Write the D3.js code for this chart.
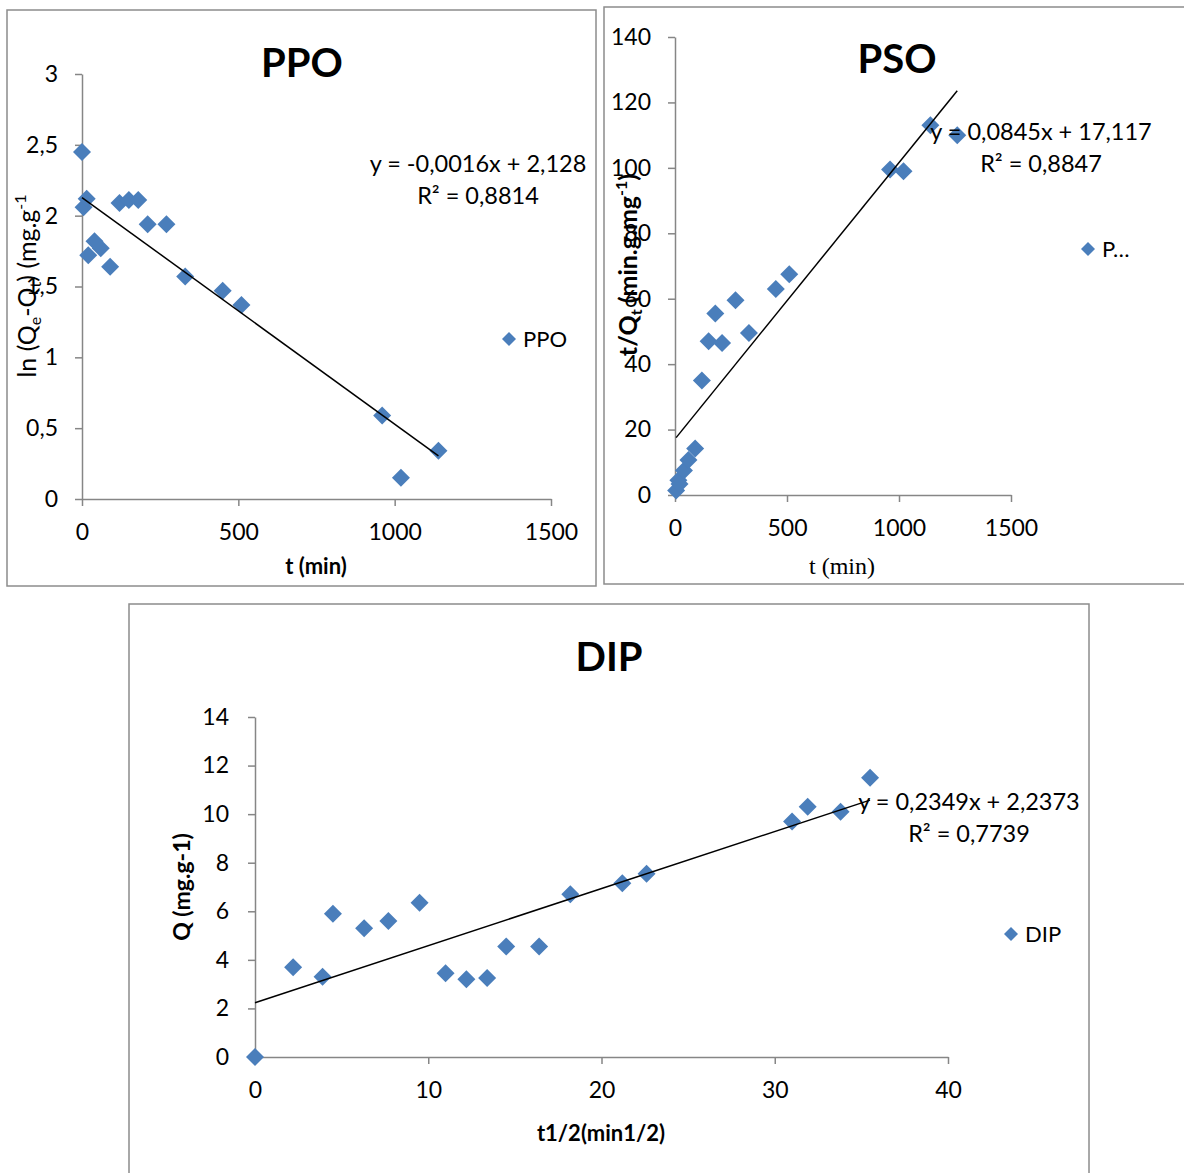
<!DOCTYPE html>
<html>
<head>
<meta charset="utf-8">
<script src="https://cdn.jsdelivr.net/npm/d3@7"></script>
<style>
    body { margin: 0; background: #fff; }
    svg text { font-family: Lato, "Open Sans", sans-serif; fill: #000; }
</style>
</head>
<body>
<div id="chart"></div>
<script>
'use strict';

// ---- data ----
const pfoT = [0, 5, 15, 20, 40, 60, 90, 120, 150, 180, 210, 270, 330, 450, 510, 960, 1020, 1140];
const pfoLn = [2.45, 2.06, 2.12, 1.72, 1.82, 1.77, 1.64, 2.09, 2.11, 2.11, 1.94, 1.94, 1.57, 1.47, 1.37, 0.59, 0.15, 0.34];

const psoT = [5, 15, 20, 40, 60, 90, 120, 150, 180, 210, 270, 330, 450, 510, 960, 1020, 1140, 1260];
const psoTQ = [1.4, 4.5, 3.4, 7.5, 10.7, 14.2, 35, 47, 55.5, 46.5, 59.5, 49.5, 63, 67.5, 99.5, 99, 113, 110];

const dipSqrtT = [0, 2.2, 3.9, 4.5, 6.3, 7.7, 9.5, 11.0, 12.2, 13.4, 14.5, 16.4, 18.2, 21.2, 22.6, 31.0, 31.9, 33.8, 35.5];
const dipQ = [0, 3.7, 3.3, 5.9, 5.3, 5.6, 6.35, 3.45, 3.2, 3.25, 4.55, 4.55, 6.7, 7.15, 7.55, 9.7, 10.3, 10.1, 11.5];

// trend line coefficients (from the equations printed on the chart)
const pfoFit = [-0.0016, 2.128];
const psoFit = [0.0845, 17.117];
const dipFit = [0.2349, 2.2373];

const pfoTicksX = [0, 500, 1000, 1500];
const pfoTicksY = [0, 0.5, 1, 1.5, 2, 2.5, 3];
const psoTicksX = [0, 500, 1000, 1500];
const psoTicksY = [0, 20, 40, 60, 80, 100, 120, 140];
const dipTicksX = [0, 10, 20, 30, 40];
const dipTicksY = [0, 2, 4, 6, 8, 10, 12, 14];

const markerColor = "#4a7ebb";
const axisColor = "#868686";

const locale = d3.formatLocale({ decimal: ",", thousands: "", grouping: [3], currency: ["", ""] });
const fmt = locale.format("~g");

const svg = d3.select("#chart")
    .append("svg")
    .attr("width", 1184)
    .attr("height", 1173);

svg.append("rect").attr("width", 1184).attr("height", 1173).attr("fill", "#fff");

const diamond = (r) => "M0," + (-r) + "L" + r + ",0L0," + r + "L" + (-r) + ",0Z";

// draws one excel-like scatter panel
const drawPanel = (cfg) => {
    const g = svg.append("g");

    g.append("rect")
        .attr("x", cfg.box[0]).attr("y", cfg.box[1])
        .attr("width", cfg.box[2]).attr("height", cfg.box[3])
        .attr("fill", "none")
        .attr("stroke", "#8c8c8c")
        .attr("stroke-width", 1.5);

    const x = d3.scaleLinear().domain(cfg.xDomain).range(cfg.xRange);
    const y = d3.scaleLinear().domain(cfg.yDomain).range(cfg.yRange);

    const xAxis = g.append("g")
        .attr("transform", "translate(0," + cfg.yRange[0] + ")")
        .call(d3.axisBottom(x).tickValues(cfg.xTicks).tickFormat(fmt).tickSize(7).tickSizeOuter(0).tickPadding(cfg.xPad));
    const yAxis = g.append("g")
        .attr("transform", "translate(" + cfg.xRange[0] + ",0)")
        .call(d3.axisLeft(y).tickValues(cfg.yTicks).tickFormat(fmt).tickSize(7).tickSizeOuter(0).tickPadding(cfg.yPad));

    [xAxis, yAxis].forEach(a => {
        a.select(".domain").attr("stroke", axisColor).attr("stroke-width", 1.5);
        a.selectAll(".tick line").attr("stroke", axisColor).attr("stroke-width", 1.5);
        a.selectAll(".tick text")
            .style("font-family", "Lato, sans-serif")
            .style("font-size", "23px")
            .attr("fill", "#000");
    });

    // points
    g.selectAll(".pt")
        .data(cfg.xs.map((v, i) => [v, cfg.ys[i]]))
        .enter()
        .append("path")
        .attr("class", "pt")
        .attr("d", diamond(9))
        .attr("transform", d => "translate(" + x(d[0]) + "," + y(d[1]) + ")")
        .attr("fill", markerColor);

    // linear trend line over the data range
    const x0 = d3.min(cfg.xs), x1 = d3.max(cfg.xs);
    g.append("line")
        .attr("x1", x(x0)).attr("y1", y(cfg.fit[0] * x0 + cfg.fit[1]))
        .attr("x2", x(x1)).attr("y2", y(cfg.fit[0] * x1 + cfg.fit[1]))
        .attr("stroke", "#000")
        .attr("stroke-width", 1.5);

    // title
    g.append("text")
        .attr("x", cfg.title[1]).attr("y", cfg.title[2])
        .attr("text-anchor", "middle")
        .attr("dominant-baseline", "central")
        .style("font-size", "40px")
        .style("font-weight", "bold")
        .text(cfg.title[0]);

    // equation + R²
    g.append("text")
        .attr("x", cfg.eqPos[0]).attr("y", cfg.eqPos[1] + 8)
        .attr("text-anchor", "middle")
        .style("font-size", "23.5px")
        .text(cfg.eq);
    g.append("text")
        .attr("x", cfg.eqPos[0]).attr("y", cfg.eqPos[1] + 40)
        .attr("text-anchor", "middle")
        .style("font-size", "23.5px")
        .text("R² = " + cfg.r2);

    // legend
    g.append("path")
        .attr("d", diamond(7))
        .attr("transform", "translate(" + cfg.legend[1] + "," + cfg.legend[2] + ")")
        .attr("fill", markerColor);
    g.append("text")
        .attr("x", cfg.legend[1] + 14).attr("y", cfg.legend[2] + 8)
        .style("font-size", "22px")
        .text(cfg.legend[0]);

    // x axis title
    g.append("text")
        .attr("x", cfg.xTitle.pos[0]).attr("y", cfg.xTitle.pos[1] + 8)
        .attr("text-anchor", "middle")
        .style("font-size", cfg.xTitle.size)
        .style("font-weight", cfg.xTitle.weight)
        .style("font-family", cfg.xTitle.font || null)
        .text(cfg.xTitle.text);

    // y axis title (rotated, with sub/superscripts)
    const yt = g.append("text")
        .attr("transform", "translate(" + cfg.yTitle.pos[0] + "," + cfg.yTitle.pos[1] + ") rotate(-90)")
        .attr("text-anchor", "middle")
        .style("font-size", cfg.yTitle.size)
        .style("font-weight", cfg.yTitle.weight);
    cfg.yTitle.parts.forEach(p => {
        const ts = yt.append("tspan").text(p[0]);
        if (p[1] === "sub") ts.attr("dy", 5).style("font-size", "16px");
        if (p[1] === "sup") ts.attr("dy", -10).style("font-size", "16px");
        if (p[1] === "back") ts.attr("dy", p[2]);
    });
}

drawPanel({
    box: [7, 10, 589, 576],
    xDomain: [0, 1500], xRange: [82, 551],
    yDomain: [0, 3], yRange: [499, 74],
    xTicks: pfoTicksX, yTicks: pfoTicksY, xPad: 18, yPad: 17,
    xs: pfoT, ys: pfoLn, fit: pfoFit,
    title: ["PPO", 302, 62],
    eq: "y = -0,0016x + 2,128", r2: "0,8814", eqPos: [478, 164],
    legend: ["PPO", 509, 339],
    xTitle: { text: "t (min)", pos: [316, 566], size: "22px", weight: "bold" },
    yTitle: {
        pos: [36, 286], weight: "normal", size: "25px",
        parts: [["ln (Q"], ["e", "sub"], ["-Q", "back", -5], ["t", "sub"], [")  (mg.g", "back", -5], ["-1", "sup"]]
    }
});

drawPanel({
    box: [604, 7, 600, 577],
    xDomain: [0, 1500], xRange: [675, 1011],
    yDomain: [0, 140], yRange: [495, 37],
    xTicks: psoTicksX, yTicks: psoTicksY, xPad: 18, yPad: 17,
    xs: psoT, ys: psoTQ, fit: psoFit,
    title: ["PSO", 897, 58],
    eq: "y = 0,0845x + 17,117", r2: "0,8847", eqPos: [1041, 132],
    legend: ["P…", 1088, 249],
    xTitle: { text: "t (min)", pos: [842, 566], size: "24px", weight: "normal", font: "'Liberation Serif', serif" },
    yTitle: {
        pos: [637, 265], weight: "bold", size: "25px",
        parts: [["t/Q"], ["t", "sub"], [" (min.g.mg", "back", -5], ["-1", "sup"], [")", "back", 10]]
    }
});

drawPanel({
    box: [129, 604, 960, 600],
    xDomain: [0, 40], xRange: [255, 948],
    yDomain: [0, 14], yRange: [1057, 717],
    xTicks: dipTicksX, yTicks: dipTicksY, xPad: 18, yPad: 19,
    xs: dipSqrtT, ys: dipQ, fit: dipFit,
    title: ["DIP", 609, 656],
    eq: "y = 0,2349x + 2,2373", r2: "0,7739", eqPos: [969, 802],
    legend: ["DIP", 1011, 934],
    xTitle: { text: "t1/2(min1/2)", pos: [601, 1133], size: "22px", weight: "bold" },
    yTitle: {
        pos: [190, 887], weight: "bold", size: "23px",
        parts: [["Q (mg.g-1)"]]
    }
});
</script>
</body>
</html>
